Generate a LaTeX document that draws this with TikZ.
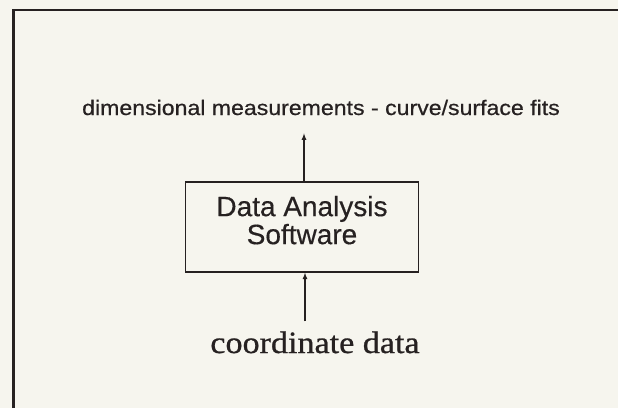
\documentclass[tikz,border=0pt]{standalone}
\usepackage{fontspec}
\usepackage{xcolor}
\usepackage{tikz}
\usetikzlibrary{arrows,calc,positioning}
\newfontfamily\wideserif[FakeStretch=1.1,FakeBold=0.8]{Liberation Serif}
\newfontfamily\widesans[FakeStretch=1.1,FakeBold=0.6]{Liberation Sans}
\newfontfamily\boxsans[FakeBold=0.4]{Liberation Sans}
\definecolor{paper}{RGB}{246,245,238}
\definecolor{ink}{RGB}{38,33,33}
\begin{document}
\begin{tikzpicture}[x=1pt,y=-1pt,
		frame/.style={draw=ink,line width=2.8pt},
		soft/.style={draw=ink,line width=1.4pt,minimum width=232.5pt,minimum height=90pt,align=center,text=ink,text depth=14pt,font=\boxsans\fontsize{28}{28}\selectfont},
		outtxt/.style={inner sep=0pt,anchor=base,text=ink,font=\widesans\fontsize{21}{25}\selectfont},
		intxt/.style={inner sep=0pt,anchor=base,text=ink,font=\wideserif\fontsize{31}{36}\selectfont},
		flow/.style={draw=ink,line width=1.2pt,-latex}]
	\useasboundingbox (0,0) rectangle (618,408);
	\fill[paper] (0,0) rectangle (618,408);
	\draw[frame] (13.5,408) |- (618,10);
		\node[soft] (das) at (302,227) {Data Analysis\\ Software};
		\node[outtxt] (results) at (321,115) {dimensional measurements - curve/surface fits};
		\node[intxt] (coords) at (315,353) {coordinate data};
		\coordinate (top tip) at ([yshift=-18pt]results.south -| das.north);
		\coordinate (low end) at ([yshift=10pt]coords.north -| das.south);
		\draw[flow] ([xshift=2pt]das.north) -- ([xshift=2pt]top tip);
		\draw[flow] ([xshift=3pt]low end) -- ([xshift=3pt]das.south);
	\end{tikzpicture}
\end{document}
